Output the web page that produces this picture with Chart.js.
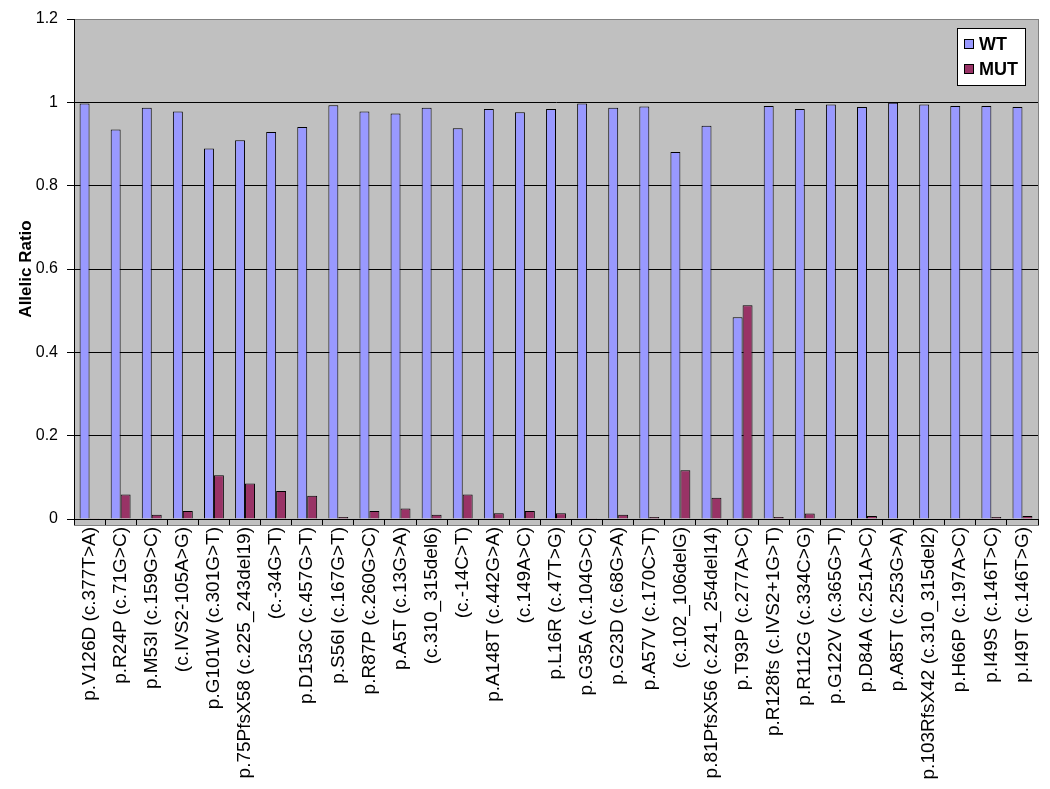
<!DOCTYPE html>
<html>
<head>
<meta charset="utf-8">
<script src="https://cdn.jsdelivr.net/npm/chart.js@4.4.0/dist/chart.umd.min.js"></script>
<style>
  html,body{margin:0;padding:0;background:#fff;}
</style>
</head>
<body>
<canvas id="chart" width="1050" height="789"></canvas>
<script>
/* DATA */
const mutations = [
  "p.V126D (c.377T>A)", "p.R24P (c.71G>C)", "p.M53I (c.159G>C)", "(c.IVS2-105A>G)",
  "p.G101W (c.301G>T)", "p.75PfsX58 (c.225_243del19)", "(c.-34G>T)", "p.D153C (c.457G>T)",
  "p.S56I (c.167G>T)", "p.R87P (c.260G>C)", "p.A5T (c.13G>A)", "(c.310_315del6)",
  "(c.-14C>T)", "p.A148T (c.442G>A)", "(c.149A>C)", "p.L16R (c.47T>G)",
  "p.G35A (c.104G>C)", "p.G23D (c.68G>A)", "p.A57V (c.170C>T)", "(c.102_106delG)",
  "p.81PfsX56 (c.241_254del14)", "p.T93P (c.277A>C)", "p.R128fs (c.IVS2+1G>T)", "p.R112G (c.334C>G)",
  "p.G122V (c.365G>T)", "p.D84A (c.251A>C)", "p.A85T (c.253G>A)", "p.103RfsX42 (c.310_315del2)",
  "p.H66P (c.197A>C)", "p.I49S (c.146T>C)", "p.I49T (c.146T>G)"
];
const wtRatio = [
  0.997, 0.935, 0.987, 0.978, 0.889, 0.909, 0.929, 0.941,
  0.993, 0.978, 0.973, 0.987, 0.938, 0.984, 0.976, 0.984,
  0.997, 0.987, 0.990, 0.881, 0.944, 0.484, 0.991, 0.984,
  0.995, 0.989, 0.999, 0.995, 0.991, 0.991, 0.989
];
const mutRatio = [
  0.002, 0.059, 0.010, 0.019, 0.105, 0.085, 0.067, 0.056,
  0.005, 0.019, 0.025, 0.010, 0.059, 0.014, 0.019, 0.014,
  0.002, 0.010, 0.005, 0.117, 0.051, 0.513, 0.005, 0.013,
  0.000, 0.007, 0.000, 0.000, 0.002, 0.005, 0.007
];
const yTicks = [0, 0.2, 0.4, 0.6, 0.8, 1, 1.2];

/* PLOT AREA BACKGROUND */
const plotBg = {
  id: "plotBg",
  beforeDraw(chart){
    const {ctx, chartArea:a} = chart;
    ctx.save();
    ctx.fillStyle = "#c0c0c0";
    ctx.fillRect(a.left, a.top, a.right - a.left, a.bottom - a.top + 6);
    ctx.strokeStyle = "#808080";
    ctx.lineWidth = 1;
    ctx.strokeRect(a.left + 0.5, a.top + 0.5, a.right - a.left, a.bottom - a.top + 6);
    ctx.restore();
  }
};

/* LEGEND BOX */
const legendBox = {
  id: "legendBox",
  afterDraw(chart){
    const {ctx, chartArea:a} = chart;
    const x = a.right - 81, y = a.top + 9, w = 68, h = 57;
    ctx.save();
    ctx.fillStyle = "#fff";
    ctx.fillRect(x, y, w, h);
    ctx.strokeStyle = "#000";
    ctx.lineWidth = 1;
    ctx.strokeRect(x + 0.5, y + 0.5, w, h);
    ctx.font = "bold 18px Arial, 'Liberation Sans', sans-serif";
    ctx.textBaseline = "middle";
    chart.data.datasets.forEach((ds, i) => {
      const cy = y + 16 + i * 25;
      ctx.fillStyle = ds.backgroundColor;
      ctx.fillRect(x + 7.5, cy - 4.5, 9, 9);
      ctx.strokeRect(x + 7.5, cy - 4.5, 9, 9);
      ctx.fillStyle = "#000";
      ctx.fillText(ds.label, x + 22, cy + 1);
    });
    ctx.restore();
  }
};

/* CHART */
new Chart(document.getElementById("chart"), {
  type: "bar",
  data: {
    labels: mutations,
    datasets: [
      {label:"WT", data:wtRatio, backgroundColor:"#9999ff", borderColor:"#000", borderWidth:1},
      {label:"MUT", data:mutRatio, backgroundColor:"#993366", borderColor:"#000", borderWidth:1}
    ]
  },
  options: {
    responsive: false,
    animation: false,
    layout: {padding:{top:19, right:12, bottom:0, left:0}},
    categoryPercentage: 0.64,
    barPercentage: 1.0,
    plugins: {
      legend: {display:false},
      tooltip: {enabled:false}
    },
    scales: {
      x: {
        grid: {offset:true, drawOnChartArea:false, drawTicks:true, tickLength:6, tickColor:"#000"},
        border: {color:"#000", width:1},
        ticks: {
          color:"#000", autoSkip:false, minRotation:90, maxRotation:90, padding:2,
          font:{family:"Arial, 'Liberation Sans', sans-serif", size:19}
        },
        afterFit(scale){ scale.height = 270; }
      },
      y: {
        min: 0, max: 1.2,
        afterBuildTicks(scale){ scale.ticks = yTicks.map(v => ({value:v})); },
        grid: {
          color: c => (c.tick && c.tick.value === 1.2) ? "#808080" : "#000",
          tickColor:"#000", tickLength:7, lineWidth:1
        },
        border: {color:"#000", width:1},
        ticks: {
          color:"#000", padding:9,
          callback: v => String(v),
          font:{family:"Arial, 'Liberation Sans', sans-serif", size:16}
        },
        title: {
          display:true, text:"Allelic Ratio", color:"#000",
          font:{family:"Arial, 'Liberation Sans', sans-serif", size:17, weight:"bold"},
          padding:{top:16, bottom:0}
        },
        afterFit(scale){ scale.width = 74; }
      }
    }
  },
  plugins: [plotBg, legendBox]
});
</script>
</body>
</html>
